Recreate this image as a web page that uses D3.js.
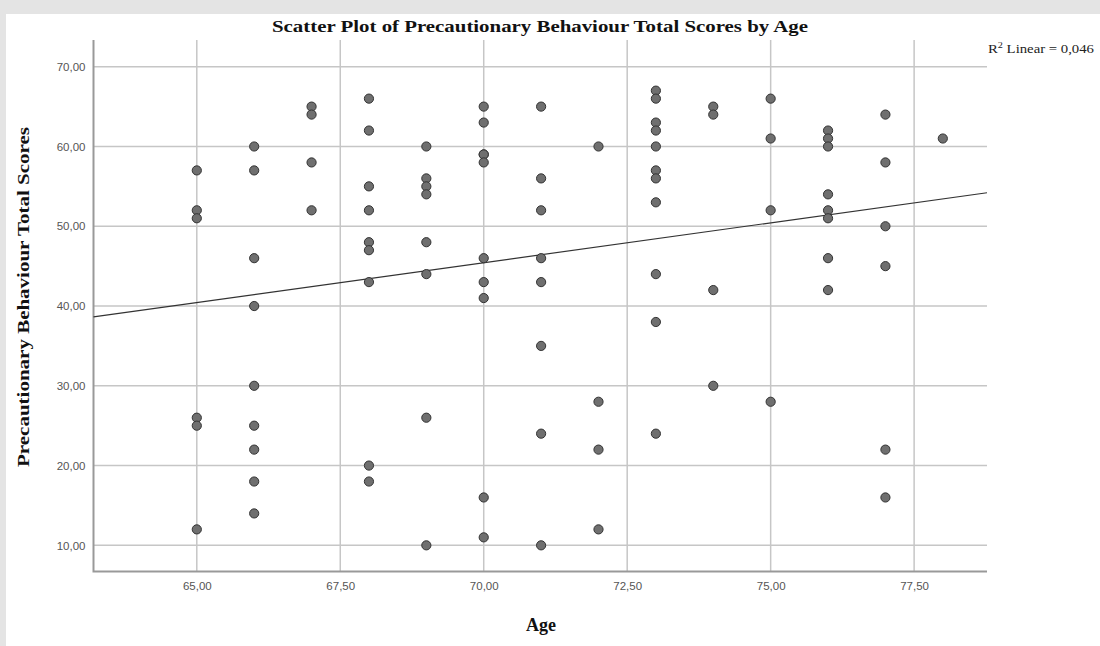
<!DOCTYPE html>
<html>
<head>
<meta charset="utf-8">
<script src="https://cdn.jsdelivr.net/npm/d3@7"></script>
<style>
  body { margin: 0; background: #e4e4e4; }
  svg { display: block; }
</style>
</head>
<body>
<div id="scatter"></div>
<script>
// data: one age + one score per respondent
var ages = [
  65, 65, 65, 65, 65, 65,
  66, 66, 66, 66, 66, 66, 66, 66, 66,
  67, 67, 67, 67,
  68, 68, 68, 68, 68, 68, 68, 68, 68,
  69, 69, 69, 69, 69, 69, 69, 69,
  70, 70, 70, 70, 70, 70, 70, 70, 70, 70,
  71, 71, 71, 71, 71, 71, 71, 71,
  72, 72, 72, 72,
  73, 73, 73, 73, 73, 73, 73, 73, 73, 73, 73,
  74, 74, 74, 74,
  75, 75, 75, 75,
  76, 76, 76, 76, 76, 76, 76, 76,
  77, 77, 77, 77, 77, 77,
  78
];
var scores = [
  57, 52, 51, 26, 25, 12,
  60, 57, 46, 40, 30, 25, 22, 18, 14,
  65, 64, 58, 52,
  66, 62, 55, 52, 48, 47, 43, 20, 18,
  60, 56, 55, 54, 48, 44, 26, 10,
  65, 63, 59, 59, 58, 46, 43, 41, 16, 11,
  65, 56, 52, 46, 43, 35, 24, 10,
  60, 28, 22, 12,
  67, 66, 63, 62, 60, 57, 56, 53, 44, 38, 24,
  65, 64, 42, 30,
  66, 61, 52, 28,
  62, 61, 60, 54, 52, 51, 46, 42,
  64, 58, 50, 45, 22, 16,
  61
];
var xTicks = [65, 67.5, 70, 72.5, 75, 77.5];
var yTicks = [10, 20, 30, 40, 50, 60, 70];
// linear fit line as drawn in the chart
var fitIntercept = -24.57;
var fitSlope = 1.0;
var rSquared = "0,046";

var svgWidth = 1100;
var svgHeight = 646;

var plot = { left: 93.5, right: 987, top: 40, bottom: 571.5 };

var svg = d3.select("#scatter")
  .append("svg")
  .attr("width", svgWidth)
  .attr("height", svgHeight);

// white panel inside the grey frame
svg.append("rect")
  .attr("x", 6)
  .attr("y", 14)
  .attr("width", svgWidth - 6)
  .attr("height", svgHeight - 14)
  .attr("fill", "#fff");

var xScale = d3.scaleLinear()
  .domain([63.2, 78.77])
  .range([plot.left, plot.right]);

var yScale = d3.scaleLinear()
  .domain([6.72, 73.35])
  .range([plot.bottom, plot.top]);

var commaFmt = function(d) { return d3.format(".2f")(d).replace(".", ","); };

// grid lines
svg.append("g")
  .selectAll("line")
  .data(xTicks)
  .enter()
  .append("line")
  .attr("x1", d => xScale(d))
  .attr("x2", d => xScale(d))
  .attr("y1", plot.top)
  .attr("y2", plot.bottom)
  .attr("stroke", "#c6c6c6")
  .attr("stroke-width", 1.5);

svg.append("g")
  .selectAll("line")
  .data(yTicks)
  .enter()
  .append("line")
  .attr("x1", plot.left)
  .attr("x2", plot.right)
  .attr("y1", d => yScale(d))
  .attr("y2", d => yScale(d))
  .attr("stroke", "#c6c6c6")
  .attr("stroke-width", 1.5);

// axes (labels only, lines drawn below)
var xAxis = d3.axisBottom(xScale).tickValues(xTicks).tickSize(0).tickPadding(10).tickFormat(commaFmt);
var yAxis = d3.axisLeft(yScale).tickValues(yTicks).tickSize(0).tickPadding(8).tickFormat(commaFmt);

var gx = svg.append("g")
  .attr("transform", `translate(0, ${plot.bottom})`)
  .call(xAxis);
var gy = svg.append("g")
  .attr("transform", `translate(${plot.left}, 0)`)
  .call(yAxis);

[gx, gy].forEach(function(g) {
  g.select(".domain").remove();
  g.selectAll("text")
    .attr("font-family", "'Liberation Sans', Arial, sans-serif")
    .attr("font-size", "11.5px")
    .attr("fill", "#555");
});

// axis lines
svg.append("path")
  .attr("d", `M${plot.left},${plot.top} V${plot.bottom} H${plot.right}`)
  .attr("fill", "none")
  .attr("stroke", "#999")
  .attr("stroke-width", 2);

// fit line
var fitLine = d3.line()
  .x(d => xScale(d))
  .y(d => yScale(fitIntercept + fitSlope * d));

svg.append("path")
  .datum(xScale.domain())
  .attr("d", fitLine)
  .attr("fill", "none")
  .attr("stroke", "#333")
  .attr("stroke-width", 1.2);

// points
svg.append("g")
  .selectAll("circle")
  .data(ages.map((a, i) => ({ age: a, score: scores[i] })))
  .enter()
  .append("circle")
  .attr("cx", d => xScale(d.age))
  .attr("cy", d => yScale(d.score))
  .attr("r", 4.6)
  .attr("fill", "#6f6f6f")
  .attr("stroke", "#333")
  .attr("stroke-width", 1);

// titles
var serif = "'Liberation Serif', 'Times New Roman', serif";

svg.append("text")
  .attr("x", 540)
  .attr("y", 32)
  .attr("text-anchor", "middle")
  .attr("font-family", serif)
  .attr("font-weight", "bold")
  .attr("font-size", "16px")
  .attr("textLength", 536)
  .attr("lengthAdjust", "spacingAndGlyphs")
  .attr("fill", "#111")
  .text("Scatter Plot of Precautionary Behaviour Total Scores by Age");

svg.append("text")
  .attr("transform", "translate(29, 297) rotate(-90)")
  .attr("text-anchor", "middle")
  .attr("font-family", serif)
  .attr("font-weight", "bold")
  .attr("font-size", "16px")
  .attr("textLength", 340)
  .attr("lengthAdjust", "spacingAndGlyphs")
  .attr("fill", "#111")
  .text("Precautionary Behaviour Total Scores");

svg.append("text")
  .attr("x", 541)
  .attr("y", 631)
  .attr("text-anchor", "middle")
  .attr("font-family", serif)
  .attr("font-weight", "bold")
  .attr("font-size", "18px")
  .attr("fill", "#111")
  .text("Age");

var r2 = svg.append("text")
  .attr("x", 988)
  .attr("y", 53)
  .attr("font-family", serif)
  .attr("font-size", "13px")
  .attr("textLength", 106)
  .attr("lengthAdjust", "spacingAndGlyphs")
  .attr("fill", "#222");
r2.append("tspan").text("R");
r2.append("tspan").attr("dy", -5).attr("font-size", "9px").text("2");
r2.append("tspan").attr("dy", 5).text(" Linear = " + rSquared);
</script>
</body>
</html>
